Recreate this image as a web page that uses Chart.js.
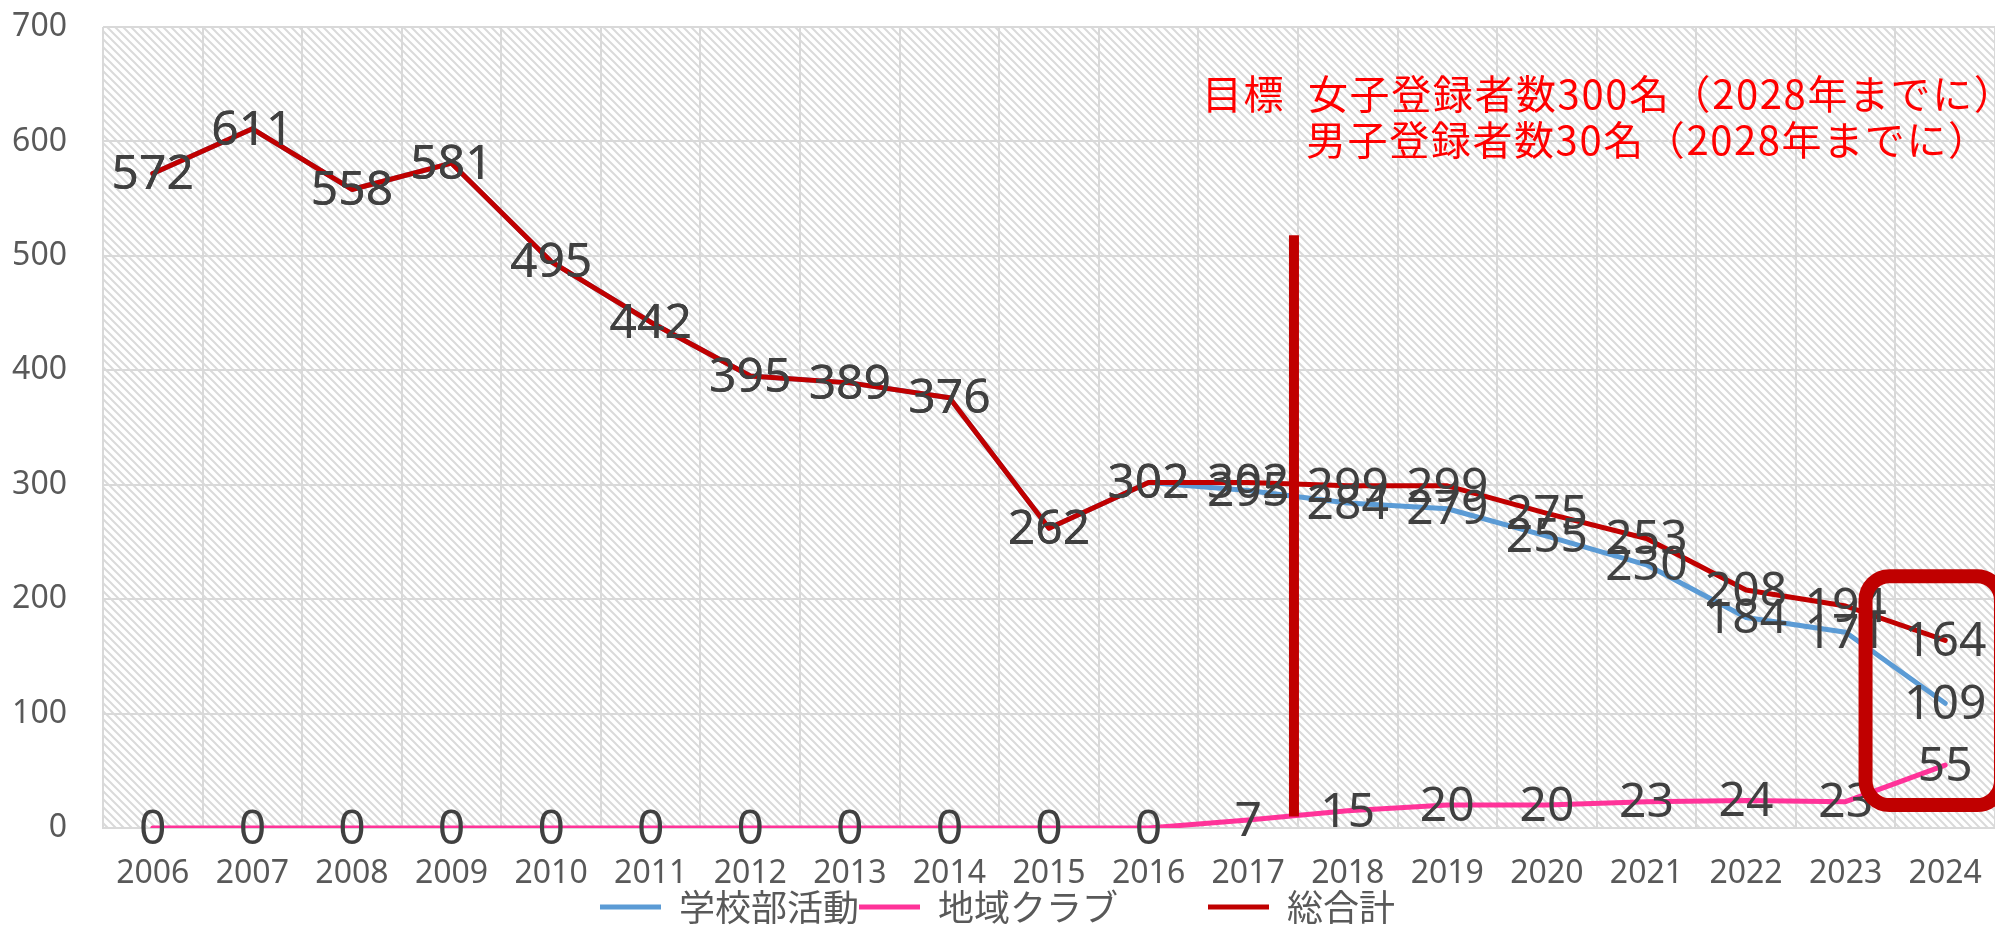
<!DOCTYPE html>
<html lang="ja">
<head>
    <meta charset="UTF-8">
    <title>登録者数の推移</title>
    <script src="https://cdn.jsdelivr.net/npm/chart.js"></script>
    <style>
        body { margin: 0; background: #fff; }
        canvas { display: block; }
    </style>
</head>
<body>
    <canvas id="myChart" width="1995" height="926"></canvas>

    <script>
        // データ
        const years = ['2006', '2007', '2008', '2009', '2010', '2011', '2012', '2013', '2014', '2015',
                       '2016', '2017', '2018', '2019', '2020', '2021', '2022', '2023', '2024'];
        const schoolClub = [572, 611, 558, 581, 495, 442, 395, 389, 376, 262, 302, 295, 284, 279, 255, 230, 184, 171, 109];
        const localClub = [0, 0, 0, 0, 0, 0, 0, 0, 0, 0, 0, 7, 15, 20, 20, 23, 24, 23, 55];
        const totalAll = [572, 611, 558, 581, 495, 442, 395, 389, 376, 262, 302, 302, 299, 299, 275, 253, 208, 194, 164];
        const yTicks = [0, 100, 200, 300, 400, 500, 600, 700];

        // 目標ライン(2017と2018の間)と2024の囲み
        const markerX = 11.46;
        const markerY = [10, 518];
        const boxX = [17.2, 18.56];
        const boxY = [20, 220];

        const goalText1a = '目標';
        const goalText1b = '女子登録者数300名（2028年までに）';
        const goalText2 = '男子登録者数30名（2028年までに）';

        // 斜線の背景パターン
        function makeHatch() {
            const c = document.createElement('canvas');
            c.width = 8; c.height = 8;
            const g = c.getContext('2d');
            g.fillStyle = '#ffffff';
            g.fillRect(0, 0, 8, 8);
            g.strokeStyle = '#dadada';
            g.lineWidth = 2;
            g.beginPath();
            g.moveTo(-2, -2); g.lineTo(10, 10);
            g.moveTo(-2, 6); g.lineTo(2, 10);
            g.moveTo(6, -2); g.lineTo(10, 2);
            g.stroke();
            return g.createPattern(c, 'repeat');
        }

        const hatchPlugin = {
            id: 'hatch',
            beforeDraw(chart) {
                const {ctx, chartArea} = chart;
                ctx.save();
                ctx.fillStyle = makeHatch();
                ctx.fillRect(chartArea.left, chartArea.top, chartArea.right - chartArea.left, chartArea.bottom - chartArea.top);
                ctx.restore();
            }
        };

        const labelPlugin = {
            id: 'pointLabels',
            afterDatasetsDraw(chart) {
                const ctx = chart.ctx;
                const x = chart.scales.x;
                const y = chart.scales.y;
                ctx.save();
                ctx.font = '48px "Noto Sans"';
                ctx.fillStyle = '#404040';
                ctx.textAlign = 'center';
                ctx.textBaseline = 'middle';
                [0, 1, 2].forEach(di => {
                    const meta = chart.getDatasetMeta(di);
                    meta.data.forEach((pt, i) => {
                        ctx.fillText(String(chart.data.datasets[di].data[i]), pt.x, pt.y + 2);
                    });
                });

                // 目標ライン
                ctx.strokeStyle = '#C00000';
                ctx.lineWidth = 10;
                ctx.beginPath();
                ctx.moveTo(x.getPixelForValue(markerX), y.getPixelForValue(markerY[1]));
                ctx.lineTo(x.getPixelForValue(markerX), y.getPixelForValue(markerY[0]));
                ctx.stroke();

                // 2024の囲み
                const l = x.getPixelForValue(boxX[0]);
                const r = x.getPixelForValue(boxX[1]);
                const t = y.getPixelForValue(boxY[1]);
                const b = y.getPixelForValue(boxY[0]);
                ctx.lineWidth = 14;
                ctx.beginPath();
                ctx.roundRect(l, t, r - l, b - t, 24);
                ctx.stroke();

                // 目標テキスト
                ctx.font = '40px "Noto Sans CJK JP"';
                ctx.letterSpacing = '1.6px';
                ctx.fillStyle = '#FF0000';
                ctx.textAlign = 'left';
                ctx.fillText(goalText1a, 1202, 94);
                ctx.fillText(goalText1b, 1308, 94);
                ctx.fillText(goalText2, 1306, 140);
                ctx.restore();
            }
        };

        const ctx = document.getElementById('myChart').getContext('2d');
        const myChart = new Chart(ctx, {
            type: 'line',
            data: {
                labels: years,
                datasets: [
                    {
                        label: '学校部活動',
                        data: schoolClub,
                        borderColor: '#5B9BD5',
                        backgroundColor: '#5B9BD5',
                        borderWidth: 5,
                        pointRadius: 0,
                        order: 2
                    },
                    {
                        label: '地域クラブ',
                        data: localClub,
                        borderColor: '#FF3399',
                        backgroundColor: '#FF3399',
                        borderWidth: 5,
                        pointRadius: 0,
                        order: 1
                    },
                    {
                        label: '総合計',
                        data: totalAll,
                        borderColor: '#C00000',
                        backgroundColor: '#C00000',
                        borderWidth: 5,
                        pointRadius: 0,
                        order: 0
                    }
                ]
            },
            options: {
                responsive: false,
                animation: false,
                layout: {
                    padding: { top: 27, left: 0, right: 0, bottom: -9 }
                },
                elements: {
                    line: { tension: 0, borderJoinStyle: 'round', borderCapStyle: 'round' }
                },
                scales: {
                    x: {
                        offset: true,
                        grid: { offset: true, color: '#d9d9d9', lineWidth: 2, drawTicks: false },
                        border: { color: '#d9d9d9', width: 2 },
                        ticks: {
                            padding: 30,
                            color: '#595959',
                            font: { family: 'Noto Sans', size: 32, lineHeight: 1 },
                            maxRotation: 0,
                            autoSkip: false
                        },
                        afterFit: (scale) => {
                            scale.height = 61;
                            scale.paddingLeft = 0;
                            scale.paddingRight = 0;
                        }
                    },
                    y: {
                        min: 0,
                        max: 700,
                        afterBuildTicks: (scale) => { scale.ticks = yTicks.map(v => ({ value: v })); },
                        grid: { color: '#d9d9d9', lineWidth: 2, drawTicks: false },
                        border: { display: false },
                        ticks: {
                            padding: 36,
                            color: '#595959',
                            font: { family: 'Noto Sans', size: 32 }
                        },
                        afterFit: (scale) => {
                            scale.width = 103;
                            scale.paddingTop = 0;
                            scale.paddingBottom = 0;
                        }
                    }
                },
                plugins: {
                    legend: {
                        position: 'bottom',
                        labels: {
                            usePointStyle: true,
                            pointStyle: 'line',
                            pointStyleWidth: 61,
                            padding: 0,
                            color: '#595959',
                            font: { family: 'Noto Sans CJK JP', size: 36 },
                            sort: (a, b) => a.datasetIndex - b.datasetIndex,
                            generateLabels: (chart) => {
                                const items = Chart.defaults.plugins.legend.labels.generateLabels(chart);
                                // 地域クラブの後ろだけ間隔を空ける
                                items.forEach(item => {
                                    if (item.datasetIndex === 1) item.text += '\u3000\u3000\u2002';
                                });
                                return items;
                            }
                        }
                    },
                    tooltip: { enabled: false }
                }
            },
            plugins: [hatchPlugin, labelPlugin]
        });
    </script>
</body>
</html>
